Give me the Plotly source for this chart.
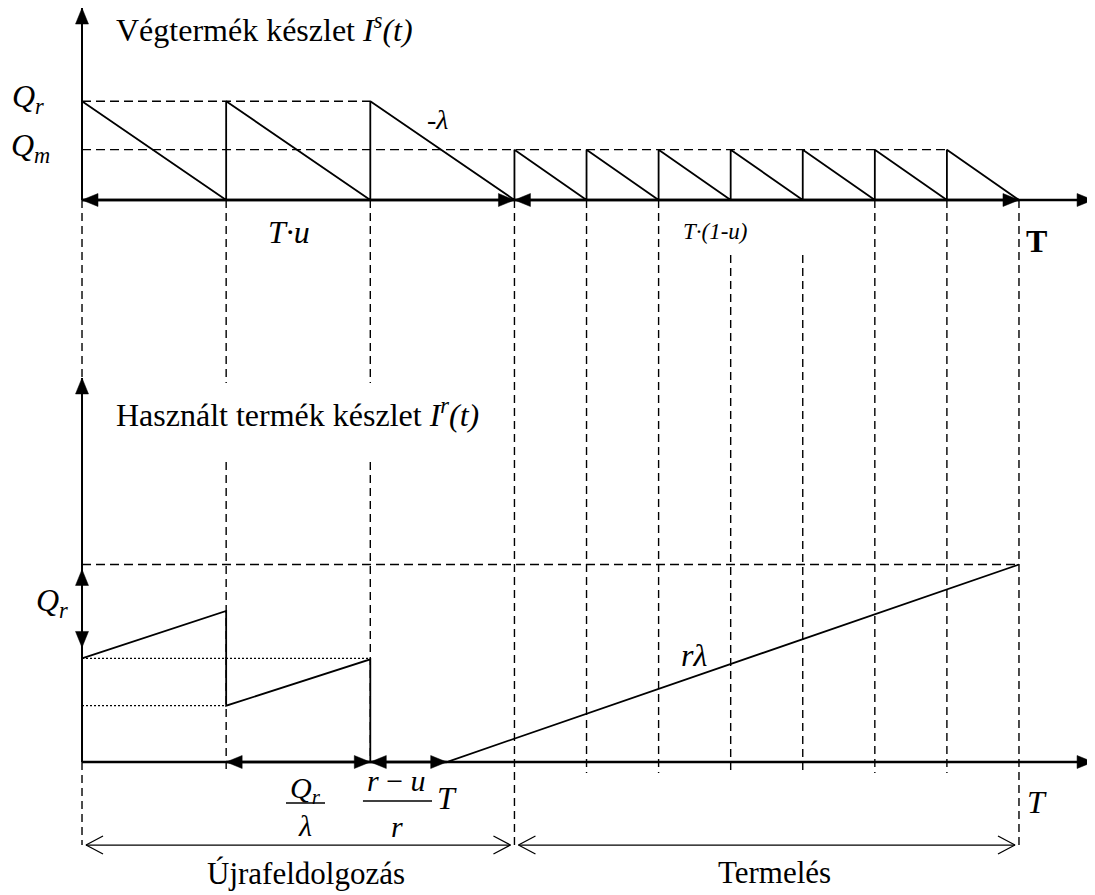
import plotly.graph_objects as go

FONT = "Liberation Serif"

# ---------------- data (time in remanufacturing-lot lengths, stock in Q_r units) ----------------
reman_bounds = [0, 1, 2, 3]                          # three remanufacturing lots  (T·u)
prod_bounds = [3, 3.5, 4, 4.5, 5, 5.5, 6, 6.5]       # seven production lots       (T·(1-u))
horizon = 6.5
Qr_level = 1.0
Qm_level = 0.51

# serviceable (final product) stock  I^s(t)
serv_t = [0, 1, 1, 2, 2, 3, 3, 3.5, 3.5, 4, 4, 4.5, 4.5, 5, 5, 5.5, 5.5, 6, 6, 6.5]
serv_level = [1.0, 0, 1.0, 0, 1.0, 0, 0.51, 0, 0.51, 0, 0.51, 0, 0.51, 0, 0.51, 0, 0.51, 0, 0.51, 0]

# used product (returns) stock  I^r(t)
used_t = [0, 1, 1, 2, 2, 2.53, 6.5]
used_level = [1.05, 1.53, 0.57, 1.04, 0, 0, 2.0]
used_peak = 2.0
dotted_levels = [1.05, 0.57]
dotted_ends = [2, 1]
lower_span_marks = [1, 2, 2.53]      # Q_r/λ  and  (r-u)/r·T
Qr_arrow = [1.95, 1.16]

# ---------------- layout geometry ----------------
X0, X1 = -0.5134, 7.0274
Y0, Y1 = -1.3468, 7.6354
UP = 5.691            # baseline of the upper panel
UP_AX_TOP = 1.944     # upper y-axis height
LO_AX_TOP = 3.889     # lower y-axis height
X_AX_END = 7.014
PHASE_Y = -0.841      # level of the Újrafeldolgozás / Termelés arrows
PX_X = 1 / 144.15
PX_Y = 1 / 98.75

guide_x = [0, 1, 2, 3, 3.5, 4, 4.5, 5, 5.5, 6, 6.5]
guide_segments = [
    [(UP, 3.818), (0, PHASE_Y)],
    [(UP, 3.838), (3.038, -0.111)],
    [(UP, 3.838), (3.038, 0)],
    [(UP, PHASE_Y)],
    [(UP, -0.111)],
    [(UP, -0.111)],
    [(5.134, -0.111)],
    [(5.134, -0.111)],
    [(UP, -0.111)],
    [(UP, -0.111)],
    [(UP, PHASE_Y)],
]

fig = go.Figure()

# dashed vertical guides
gx, gy = [], []
for x, segs in zip(guide_x, guide_segments):
    for a, b in segs:
        gx += [x, x, None]
        gy += [a, b, None]
fig.add_trace(go.Scatter(x=gx, y=gy, mode="lines",
                         line=dict(color="black", width=1.4, dash="8px,5px")))

# dashed horizontal levels (upper)
fig.add_trace(go.Scatter(
    x=[reman_bounds[0], reman_bounds[2], None, reman_bounds[0], prod_bounds[-2]],
    y=[UP + Qr_level, UP + Qr_level, None, UP + Qm_level, UP + Qm_level],
    mode="lines", line=dict(color="black", width=1.4, dash="9px,5px")))
# dashed horizontal level (lower)
fig.add_trace(go.Scatter(x=[0, horizon], y=[used_peak, used_peak], mode="lines",
                         line=dict(color="black", width=1.4, dash="9px,5px")))
# dotted levels (lower)
dx, dy = [], []
for lv, e in zip(dotted_levels, dotted_ends):
    dx += [0, e, None]
    dy += [lv, lv, None]
fig.add_trace(go.Scatter(x=dx, y=dy, mode="lines",
                         line=dict(color="black", width=1.2, dash="2px,2px")))

# sawtooth inventories
fig.add_trace(go.Scatter(x=serv_t, y=[UP + v for v in serv_level], mode="lines",
                         line=dict(color="black", width=1.8)))
fig.add_trace(go.Scatter(x=used_t, y=used_level, mode="lines",
                         line=dict(color="black", width=1.8)))

# open-headed phase arrows (bottom)
GAP = 4 * PX_X
HL, HH = 17 * PX_X, 9 * PX_Y
phases = [(reman_bounds[0], reman_bounds[-1]), (prod_bounds[0], prod_bounds[-1])]
px_, py_ = [], []
for a, b in phases:
    l, r = a + GAP, b - GAP
    px_ += [l, r, None,
            l + HL, l, l + HL, None,
            r - HL, r, r - HL, None]
    py_ += [PHASE_Y, PHASE_Y, None,
            PHASE_Y + HH, PHASE_Y, PHASE_Y - HH, None,
            PHASE_Y + HH, PHASE_Y, PHASE_Y - HH, None]
fig.add_trace(go.Scatter(x=px_, y=py_, mode="lines", line=dict(color="black", width=1.3)))

# fraction bars
fig.add_trace(go.Scatter(x=[1.415, 1.686, None, 1.949, 2.428],
                         y=[-0.415, -0.415, None, -0.395, -0.395],
                         mode="lines", line=dict(color="black", width=1.3)))

# ---------------- solid arrows (axes and spans) ----------------
head_x, head_y = [], []     # filled triangular heads
HEAD_L, HEAD_W = 16, 6.5    # px


def head(tx, ty, ux, uy):
    """filled triangle with tip (tx,ty) pointing along (ux,uy) (screen px, y up)"""
    nx, ny = -uy, ux
    bx, by = -ux * HEAD_L, -uy * HEAD_L
    pts = [(0, 0), (bx + nx * HEAD_W, by + ny * HEAD_W), (bx - nx * HEAD_W, by - ny * HEAD_W), (0, 0)]
    for ox, oy in pts:
        head_x.append(tx + ox * PX_X)
        head_y.append(ty + oy * PX_Y)
    head_x.append(None)
    head_y.append(None)


lines_thick = ([], [])
lines_mid = ([], [])


def arrow(x0, y0, x1, y1, both=False, thick=True):
    tgt = lines_thick if thick else lines_mid
    tgt[0].extend([x0, x1, None])
    tgt[1].extend([y0, y1, None])
    ux = 1 if x1 > x0 else (-1 if x1 < x0 else 0)
    uy = 1 if y1 > y0 else (-1 if y1 < y0 else 0)
    head(x1, y1, ux, uy)
    if both:
        head(x0, y0, -ux, -uy)


arrow(0, UP, 0, UP + UP_AX_TOP, thick=False)
arrow(0, UP, X_AX_END, UP)
arrow(reman_bounds[0], UP, reman_bounds[-1], UP, both=True)
arrow(prod_bounds[0], UP, prod_bounds[-1], UP, both=True)
arrow(0, 0, 0, LO_AX_TOP, thick=False)
arrow(0, 0, X_AX_END, 0)
arrow(lower_span_marks[0], 0, lower_span_marks[1], 0, both=True)
arrow(lower_span_marks[1], 0, lower_span_marks[2], 0, both=True)
arrow(0, Qr_arrow[1], 0, Qr_arrow[0], both=True, thick=False)

fig.add_trace(go.Scatter(x=lines_thick[0], y=lines_thick[1], mode="lines",
                         line=dict(color="black", width=2.4)))
fig.add_trace(go.Scatter(x=lines_mid[0], y=lines_mid[1], mode="lines",
                         line=dict(color="black", width=2.0)))
fig.add_trace(go.Scatter(x=head_x, y=head_y, mode="lines", fill="toself",
                         fillcolor="black", line=dict(color="black", width=0.5)))

# ---------------- texts ----------------
annotations = []


def label(x, y, text, size=32, xanchor="center"):
    annotations.append(dict(
        x=x, y=y, xref="x", yref="y", text=text, showarrow=False,
        xanchor=xanchor, yanchor="middle",
        font=dict(family=FONT, size=size, color="black")))


label(0.222, 7.433, "Végtermék készlet <i>I<sup>s</sup>(t)</i>", 32, "left")
label(0.222, 3.534, "Használt termék készlet <i>I<sup>r</sup>(t)</i>", 32, "left")
label(-0.375, UP + Qr_level + 0.03, "<i>Q<sub>r</sub></i>", 32)
label(-0.355, UP + Qm_level + 0.02, "<i>Q<sub>m</sub></i>", 32)
label(-0.210, 1.62, "<i>Q<sub>r</sub></i>", 32)
label(2.463, 6.506, "<i>-λ</i>", 28)
label(1.436, 5.363, "<i>T·u</i>", 32)
label(4.398, 5.373, "<i>T·(1-u)</i>", 23)
label(6.625, 5.276, "<b>T</b>", 32)
label(4.245, 1.083, "<i>rλ</i>", 32)
label(1.547, -0.288, "<i>Q<sub>r</sub></i>", 30)
label(1.547, -0.648, "<i>λ</i>", 30)
label(2.185, -0.192, "<i>r</i> − <i>u</i>", 30)
label(2.185, -0.658, "<i>r</i>", 30)
label(2.532, -0.365, "<i>T</i>", 32)
label(6.625, -0.405, "<i>T</i>", 32)
label(1.557, -1.124, "Újrafeldolgozás", 31)
label(4.807, -1.114, "Termelés", 31)

fig.update_layout(
    width=1087, height=887, autosize=False,
    margin=dict(l=0, r=0, t=0, b=0),
    paper_bgcolor="white", plot_bgcolor="white",
    showlegend=False, hovermode=False,
    xaxis=dict(range=[X0, X1], visible=False, fixedrange=True),
    yaxis=dict(range=[Y0, Y1], visible=False, fixedrange=True),
    annotations=annotations,
)

fig.write_html("out.html")
